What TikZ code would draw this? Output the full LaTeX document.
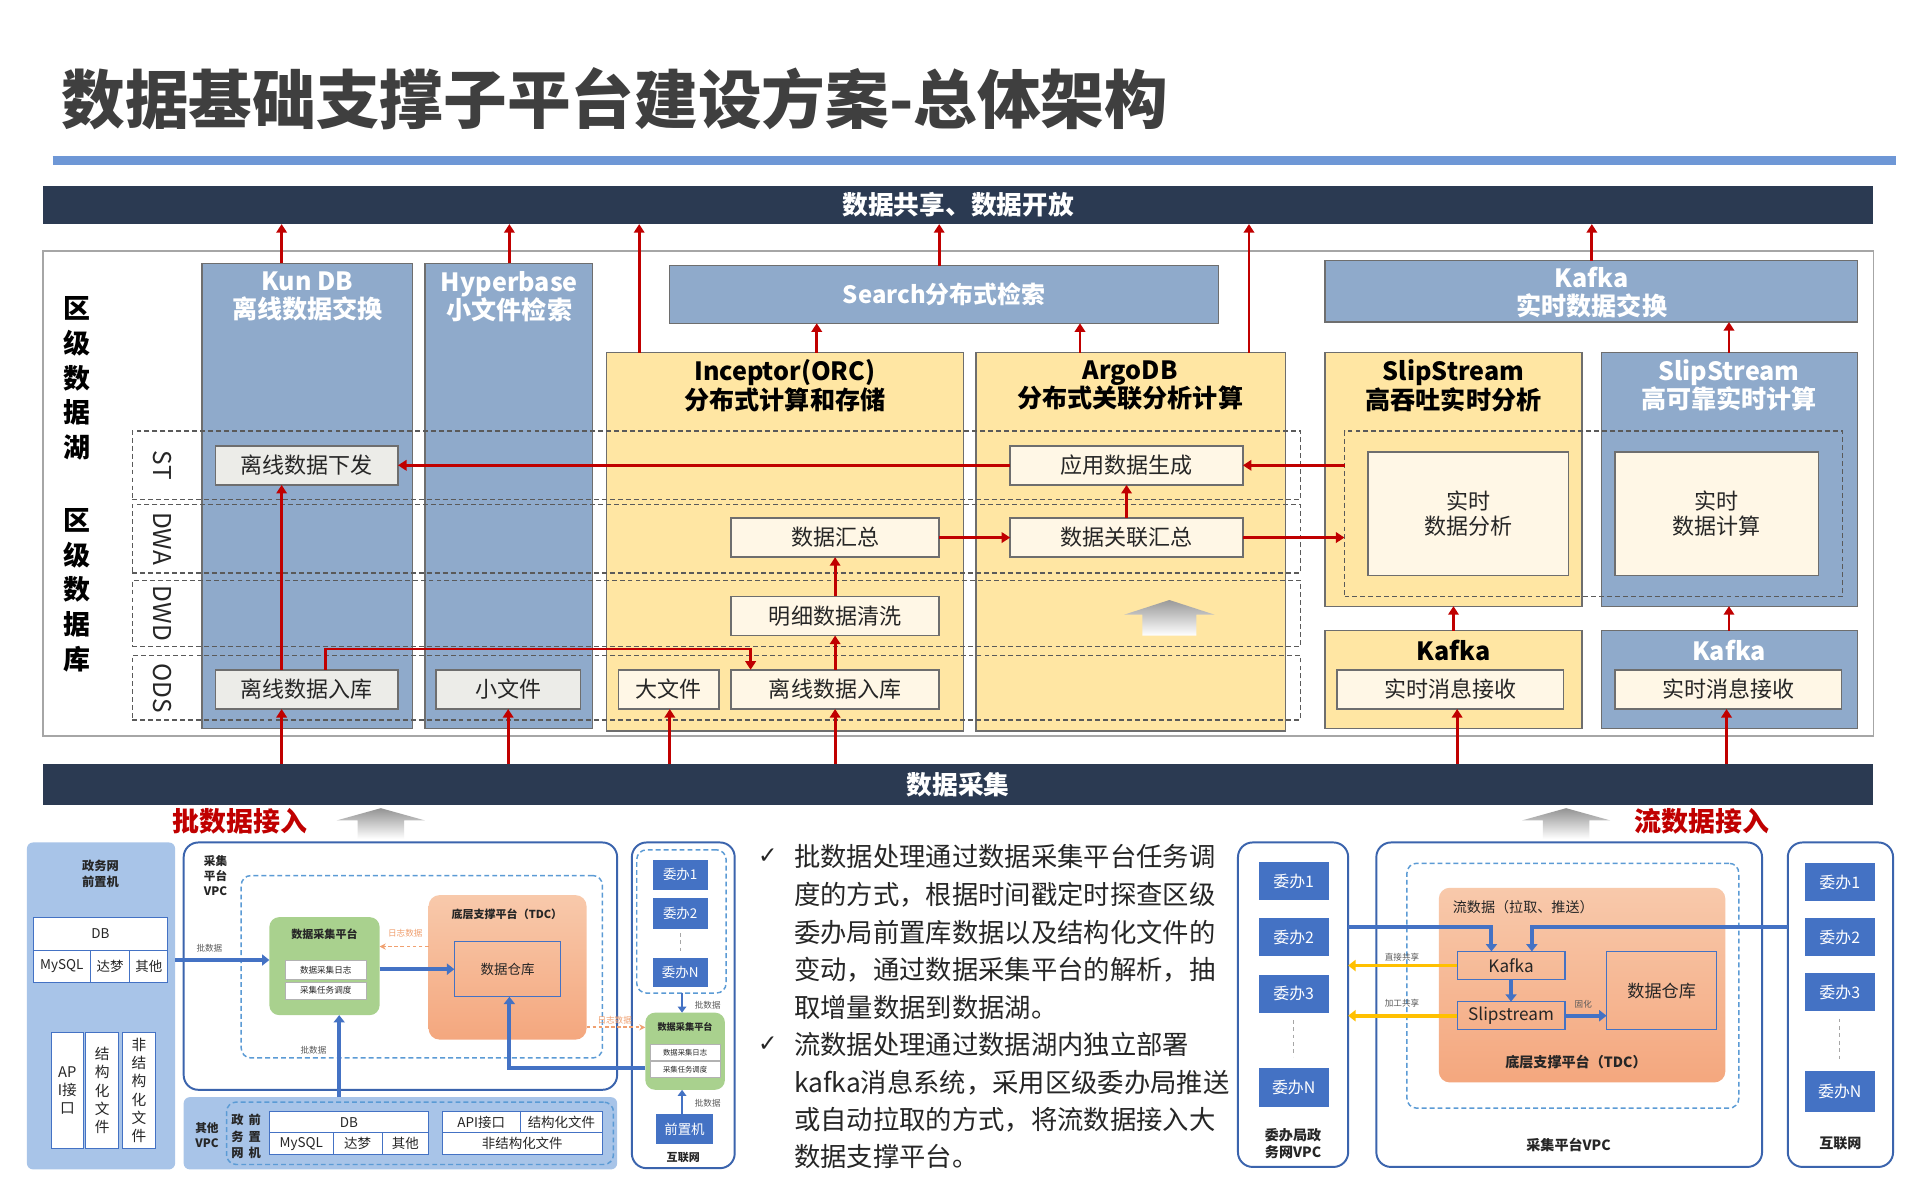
\documentclass[tikz,border=0pt]{standalone}
\usepackage{fontspec}
\setmainfont{Noto Sans CJK SC}
\newfontfamily\symfont{DejaVu Sans}
\usetikzlibrary{arrows.meta}
\definecolor{navy}{HTML}{2B3A52}
\definecolor{colblue}{HTML}{8FAACB}
\definecolor{colyel}{HTML}{FFE6A3}
\definecolor{colline}{HTML}{6E6E6E}
\definecolor{grayin}{HTML}{ECECE8}
\definecolor{cream}{HTML}{FFF7E6}
\definecolor{arred}{HTML}{C00000}
\definecolor{titlegray}{HTML}{3F3F3F}
\definecolor{titleblue}{HTML}{6E97D6}
\definecolor{dashgray}{HTML}{5A5A5A}
\definecolor{lightpanel}{HTML}{A8C4E8}
\definecolor{vpcblue}{HTML}{3B64AD}
\definecolor{dashblue}{HTML}{5B9BD5}
\definecolor{cellblue}{HTML}{4472C4}
\definecolor{greenf}{HTML}{A9D18E}
\definecolor{tdctop}{HTML}{F8C9AB}
\definecolor{tdcbot}{HTML}{F4A77E}
\definecolor{orangel}{HTML}{F0A070}
\definecolor{yellowa}{HTML}{FFC000}
\definecolor{txtdark}{HTML}{262626}
\newcommand\fsz[2]{\fontsize{#1}{#2}\selectfont}
\newcommand\mkbox[7]{\node[#2, minimum width={#5-#3}, minimum height={#6-#4}] (#1) at ({(#3+#5)/2},{(#4+#6)/2}) {#7};}
\tikzset{
  base/.style={rectangle, inner sep=0pt, outer sep=0pt},
  navybar/.style={base, fill=navy, text=white, font=\fsz{21}{24}\bfseries},
  framebox/.style={base, draw=gray!70, line width=1.2pt},
  bluecol/.style={base, fill=colblue, draw=colline, line width=1pt},
  yelcol/.style={base, fill=colyel, draw=colline, line width=1pt},
  wtitle/.style={text=white, font=\fsz{20.5}{23}\bfseries, align=center},
  ktitle/.style={text=black, font=\fsz{20.5}{23}\bfseries, align=center},
  layer/.style={base, draw=dashgray, line width=1pt, dash pattern=on 4pt off 2.5pt},
  layerlbl/.style={rotate=-90, font=\fsz{20}{22}, text=txtdark},
  lakelbl/.style={font=\fsz{22}{28.5}\bfseries, align=center, text=black},
  graybox/.style={base, fill=grayin, draw=colline, line width=1.3pt, font=\fsz{18}{20}, text=txtdark},
  creambox/.style={base, fill=cream, draw=colline, line width=1.3pt, font=\fsz{18}{20}, text=txtdark, align=center},
  redarr/.style={draw=arred, line width=2.4pt, -{Triangle[length=7pt,width=8.5pt]}},
  redlbl/.style={text=arred, font=\fsz{22}{26}\bfseries},
  lbpanel/.style={base, fill=lightpanel, rounded corners=5pt},
  vpc/.style={base, draw=vpcblue, line width=1.6pt, fill=white, rounded corners=12pt},
  innerdash/.style={base, draw=dashblue, line width=1.2pt, dash pattern=on 4pt off 2.5pt, rounded corners=8pt},
  cell/.style={base, fill=white, draw=cellblue, line width=0.8pt, font=\fsz{11}{13}, text=txtdark},
  vcell/.style={cell, font=\fsz{12}{15}, align=center},
  greenbox/.style={base, fill=greenf, rounded corners=8pt},
  subcell/.style={base, fill=white, draw=gray!60, line width=0.6pt, font=\fsz{7}{8}, text=txtdark},
  tdc/.style={base, top color=tdctop, bottom color=tdcbot, rounded corners=9pt},
  whbox/.style={base, draw=cellblue, line width=1pt, font=\fsz{11}{13}, text=txtdark},
  tdcin/.style={base, draw=cellblue, line width=1pt, font=\fsz{14}{16}, text=txtdark},
  wbox/.style={base, fill=cellblue, text=white, font=\fsz{11}{13}},
  wboxb/.style={base, fill=cellblue, text=white, font=\fsz{13}{15}},
  bluearr/.style={draw=cellblue, line width=3.2pt, -{Triangle[length=6pt,width=9pt]}},
  bluearrs/.style={draw=cellblue, line width=2.2pt, -{Triangle[length=5pt,width=7pt]}},
  orgdash/.style={draw=orangel, line width=1.5pt, dash pattern=on 3pt off 2pt, -{Stealth[length=5pt,width=5pt]}},
  yelarr/.style={draw=yellowa, line width=3.2pt, -{Triangle[length=6pt,width=9pt]}},
  tinylbl/.style={font=\fsz{7}{8}, text=gray!70!black},
  orglbl/.style={font=\fsz{7}{8}, text=orangel},
  smallb/.style={font=\fsz{9.5}{12}\bfseries, align=center, text=txtdark},
  dotline/.style={draw=gray!70, line width=1pt, dash pattern=on 3pt off 3pt},
  bodytext/.style={font=\fsz{21.5}{26}, text=txtdark, anchor=base west},
  chk/.style={font=\symfont\bfseries\fsz{19}{20}, text=txtdark},
}
\begin{document}
\begin{tikzpicture}[x=1pt,y=-1pt]
\useasboundingbox (0,0) rectangle (1568,980);
\fill[white] (0,0) rectangle (1568,980);

% title
\node[anchor=west, inner sep=0pt, font=\fsz{52}{60}\bfseries, text=titlegray] (title) at (50,81) {数据基础支撑子平台建设方案-总体架构};
\draw[line width=7pt, titleblue] (43,131) -- (1548,131);

% top bar and frame
\mkbox{topbar}{navybar}{35}{152}{1530}{183}{数据共享、数据开放}
\mkbox{frame}{framebox}{35}{205}{1530}{601}{}

% left labels
\node[lakelbl] (lake) at (63,309) {区\\级\\数\\据\\湖};
\node[lakelbl] (dbase) at (63,482) {区\\级\\数\\据\\库};

% columns
\mkbox{kun}{bluecol}{165}{215}{337}{595}{}
\mkbox{hyper}{bluecol}{347}{215}{484}{595}{}
\mkbox{incep}{yelcol}{495}{288}{787}{597}{}
\mkbox{argo}{yelcol}{797}{288}{1050}{597}{}
\mkbox{search}{bluecol}{547}{217}{995}{264}{}
\node[wtitle, font=\fsz{19.5}{22}\bfseries] (searcht) at (771,240) {Search分布式检索};
\mkbox{kafkax}{bluecol}{1082}{213}{1517}{263}{}
\node[wtitle] (kafkaxt) at (1300,239) {Kafka\\实时数据交换};
\mkbox{ssy}{yelcol}{1082}{288}{1292}{495}{}
\mkbox{ssb}{bluecol}{1308}{288}{1517}{495}{}
\mkbox{kfy}{yelcol}{1082}{515}{1292}{595}{}
\mkbox{kfb}{bluecol}{1308}{515}{1517}{595}{}

\node[wtitle] (kunt) at (251,242) {Kun DB\\离线数据交换};
\node[wtitle] (hypert) at (416,242) {Hyperbase\\小文件检索};
\node[ktitle] (incept) at (641,315) {Inceptor(ORC)\\分布式计算和存储};
\node[ktitle] (argot) at (923,315) {ArgoDB\\分布式关联分析计算};
\node[ktitle] (ssyt) at (1187,315) {SlipStream\\高吞吐实时分析};
\node[wtitle] (ssbt) at (1412,315) {SlipStream\\高可靠实时计算};
\node[ktitle] (kfyt) at (1187,531) {Kafka};
\node[wtitle] (kfbt) at (1412,531) {Kafka};

% layers
\mkbox{rowst}{layer}{108}{352}{1062}{408}{}
\mkbox{rowdwa}{layer}{108}{412}{1062}{468}{}
\mkbox{rowdwd}{layer}{108}{474}{1062}{528}{}
\mkbox{rowods}{layer}{108}{535}{1062}{588}{}
\mkbox{ssdash}{layer}{1098}{352}{1505}{487}{}
\node[layerlbl] (lst) at (133,380) {ST};
\node[layerlbl] (ldwa) at (133,440) {DWA};
\node[layerlbl] (ldwd) at (133,501) {DWD};
\node[layerlbl] (lods) at (133,562) {ODS};

% inner boxes
\mkbox{xiafa}{graybox}{176}{364}{325}{396}{离线数据下发}
\mkbox{rukuK}{graybox}{176}{547}{325}{579}{离线数据入库}
\mkbox{xiaowj}{graybox}{356}{547}{474}{579}{小文件}
\mkbox{dawj}{creambox}{505}{547}{587}{579}{大文件}
\mkbox{rukuI}{creambox}{597}{547}{767}{579}{离线数据入库}
\mkbox{mingxi}{creambox}{597}{487}{767}{519}{明细数据清洗}
\mkbox{huizong}{creambox}{597}{423}{767}{455}{数据汇总}
\mkbox{yingyong}{creambox}{825}{364}{1015}{396}{应用数据生成}
\mkbox{guanlian}{creambox}{825}{423}{1015}{455}{数据关联汇总}
\mkbox{fenxi}{creambox}{1117}{369}{1281}{470}{实时\\数据分析}
\mkbox{jisuan}{creambox}{1319}{369}{1485}{470}{实时\\数据计算}
\mkbox{msgy}{creambox}{1092}{547}{1277}{579}{实时消息接收}
\mkbox{msgb}{creambox}{1319}{547}{1504}{579}{实时消息接收}

% gray up arrow in ArgoDB
\shade[top color=gray!80, bottom color=white] (918,502) -- (955,490) -- (992,502) -- (977,502) -- (977,519) -- (933,519) -- (933,502) -- cycle;

% bottom bar
\mkbox{caiji}{navybar}{35}{624}{1530}{657}{数据采集}

% red arrows up to top bar
\draw[redarr] (230,0 |- kun.north) -- (230,0 |- topbar.south);
\draw[redarr] (416,0 |- hyper.north) -- (416,0 |- topbar.south);
\draw[redarr] (522,0 |- incep.north) -- (522,0 |- topbar.south);
\draw[redarr] (767,0 |- search.north) -- (767,0 |- topbar.south);
\draw[redarr] (1020,0 |- argo.north) -- (1020,0 |- topbar.south);
\draw[redarr] (1300,0 |- kafkax.north) -- (1300,0 |- topbar.south);
\draw[redarr] (667,0 |- incep.north) -- (667,0 |- search.south);
\draw[redarr] (882,0 |- argo.north) -- (882,0 |- search.south);
\draw[redarr] (1412,0 |- ssb.north) -- (1412,0 |- kafkax.south);
\draw[redarr] (1187,0 |- kfy.north) -- (1187,0 |- ssy.south);
\draw[redarr] (1412,0 |- kfb.north) -- (1412,0 |- ssb.south);
% internal flows
\draw[redarr] (yingyong.west) -- (xiafa.east);
\draw[redarr] (ssdash.west |- yingyong.east) -- (yingyong.east);
\draw[redarr] (guanlian.east) -- (ssdash.west |- guanlian.east);
\draw[redarr] (huizong.east) -- (guanlian.west);
\draw[redarr] (guanlian.north) -- (guanlian.north |- yingyong.south);
\draw[redarr] (682,0 |- mingxi.north) -- (682,0 |- huizong.south);
\draw[redarr] (682,0 |- rukuI.north) -- (682,0 |- mingxi.south);
\draw[redarr] (230,0 |- rukuK.north) -- (230,0 |- xiafa.south);
\draw[redarr] (266,0 |- rukuK.north) -- (266,530) -- (613,530) -- (613,0 |- rukuI.north);
% from collection bar
\draw[redarr] (230,0 |- caiji.north) -- (230,0 |- rukuK.south);
\draw[redarr] (415,0 |- caiji.north) -- (415,0 |- xiaowj.south);
\draw[redarr] (547,0 |- caiji.north) -- (547,0 |- dawj.south);
\draw[redarr] (682,0 |- caiji.north) -- (682,0 |- rukuI.south);
\draw[redarr] (1190,0 |- caiji.north) -- (1190,0 |- msgy.south);
\draw[redarr] (1410,0 |- caiji.north) -- (1410,0 |- msgb.south);

% access labels
\node[redlbl] (batchin) at (196,671) {批数据接入};
\node[redlbl] (streamin) at (1390,671) {流数据接入};
\shade[top color=gray!85, bottom color=white] (275,670) -- (311,660) -- (347,670) -- (330,670) -- (330,685) -- (292,685) -- (292,670) -- cycle;
\shade[top color=gray!85, bottom color=white] (1243,670) -- (1279,660) -- (1315,670) -- (1298,670) -- (1298,685) -- (1260,685) -- (1260,670) -- cycle;

% ===== bottom-left: batch diagram =====
\mkbox{zwpanel}{lbpanel}{22}{688}{143}{955}{}
\node[smallb, font=\fsz{10}{13}\bfseries] (zwlbl) at (82,714) {政务网\\前置机};
\mkbox{db1}{cell}{27}{749}{137}{776}{DB}
\mkbox{mysql1}{cell}{27}{776}{74}{802}{MySQL}
\mkbox{dm1}{cell}{74}{776}{106}{802}{达梦}
\mkbox{qt1}{cell}{106}{776}{137}{802}{其他}
\mkbox{api1}{vcell}{42}{843}{68}{938}{AP\\I接\\口}
\mkbox{jg1}{vcell}{70}{843}{97}{938}{结\\构\\化\\文\\件}
\mkbox{fjg1}{vcell}{100}{843}{127}{938}{非\\结\\构\\化\\文\\件}

\mkbox{vpc1}{vpc}{150}{688}{504}{890}{}
\node[smallb] (vpc1lbl) at (176,715) {采集\\平台\\VPC};
\mkbox{vpc1in}{innerdash}{197}{715}{492}{864}{}
\mkbox{grn1}{greenbox}{220}{749}{310}{829}{}
\node[smallb, font=\fsz{9}{11}\bfseries] (grn1t) at (265,763) {数据采集平台};
\mkbox{grn1a}{subcell}{233}{784}{299}{800}{数据采集日志}
\mkbox{grn1b}{subcell}{233}{802}{299}{816}{采集任务调度}
\mkbox{tdc1}{tdc}{350}{731}{479}{849}{}
\node[smallb, font=\fsz{9}{11}\bfseries] (tdc1t) at (414,747) {底层支撑平台（TDC）};
\mkbox{ck1}{whbox}{371}{769}{458}{814}{数据仓库}

\mkbox{qtpanel}{lbpanel}{150}{896}{504}{955}{}
\mkbox{qtin}{innerdash}{185}{900}{501}{951}{}
\node[smallb, font=\fsz{9.5}{12.5}\bfseries] (qtlbl) at (169,927) {其他\\VPC};
\node[smallb, font=\fsz{10}{13.5}\bfseries] (qtzw) at (194,928) {政\\务\\网};
\node[smallb, font=\fsz{10}{13.5}\bfseries] (qtqz) at (208,928) {前\\置\\机};
\mkbox{db2}{cell}{220}{908}{350}{925}{DB}
\mkbox{mysql2}{cell}{220}{925}{272}{943}{MySQL}
\mkbox{dm2}{cell}{272}{925}{312}{943}{达梦}
\mkbox{qt2}{cell}{312}{925}{350}{943}{其他}
\mkbox{api2}{cell}{361}{908}{425}{925}{API接口}
\mkbox{jg2}{cell}{425}{908}{492}{925}{结构化文件}
\mkbox{fjg2}{cell}{361}{925}{492}{943}{非结构化文件}

\mkbox{hlw1}{vpc}{516}{688}{600}{954}{}
\mkbox{hlw1in}{innerdash}{520}{694}{593}{811}{}
\mkbox{wb11}{wbox}{533}{702}{578}{727}{委办1}
\mkbox{wb12}{wbox}{533}{733}{578}{759}{委办2}
\mkbox{wb1N}{wbox}{533}{782}{578}{806}{委办N}
\draw[dotline] ([yshift=-3pt]wb12.south) -- ([yshift=3pt]wb1N.north);
\mkbox{grn2}{greenbox}{527}{827}{592}{890}{}
\node[smallb, font=\fsz{7.5}{9}\bfseries] (grn2t) at (559.5,839) {数据采集平台};
\mkbox{grn2a}{subcell}{531}{853}{588}{866}{\fsz{6}{7}数据采集日志}
\mkbox{grn2b}{subcell}{531}{867}{588}{880}{\fsz{6}{7}采集任务调度}
\mkbox{qzj}{wbox}{536}{910}{582}{934}{前置机}
\node[smallb, font=\fsz{9}{11}\bfseries] (hlw1lbl) at (558,945) {互联网};

\draw[bluearr] (zwpanel.east |- 0,784) -- (grn1.west |- 0,784);
\node[tinylbl] (pl1) at (171,774) {批数据};
\draw[orgdash] (tdc1.west |- 0,773) -- (grn1.east |- 0,773);
\node[orglbl] (rz1) at (331,762) {日志数据};
\draw[bluearr] (grn1.east |- ck1.west) -- (ck1.west);
\draw[bluearr] (277,0 |- qtpanel.north) -- (277,0 |- grn1.south);
\node[tinylbl] (pl2) at (256,858) {批数据};
\draw[bluearr] (grn2.west |- 0,872) -- (416,872) -- (416,0 |- ck1.south);
\draw[orgdash] (tdc1.east |- 0,839) -- (grn2.west |- 0,839);
\node[orglbl] (rz2) at (502,833) {日志数据};
\draw[bluearrs] (557,0 |- hlw1in.south) -- (557,0 |- grn2.north);
\node[tinylbl] (pl3) at (578,821) {批数据};
\draw[bluearrs] (557,0 |- qzj.north) -- (557,0 |- grn2.south);
\node[tinylbl] (pl4) at (578,901) {批数据};

% ===== middle text =====
\node[chk] (ck_a) at (627,699) {✓};
\node[chk] (ck_b) at (627,853) {✓};
\node[bodytext] (t1) at (645,708) {批数据处理通过数据采集平台任务调};
\node[bodytext] (t2) at (645,739) {度的方式，根据时间戳定时探查区级};
\node[bodytext] (t3) at (645,769.5) {委办局前置库数据以及结构化文件的};
\node[bodytext] (t4) at (645,800) {变动，通过数据采集平台的解析，抽};
\node[bodytext] (t5) at (645,831) {取增量数据到数据湖。};
\node[bodytext] (t6) at (645,861) {流数据处理通过数据湖内独立部署};
\node[bodytext] (t7) at (645,892) {kafka消息系统，采用区级委办局推送};
\node[bodytext] (t8) at (645,922.5) {或自动拉取的方式，将流数据接入大};
\node[bodytext] (t9) at (645,953) {数据支撑平台。};

% ===== bottom-right: stream diagram =====
\mkbox{wbvpc}{vpc}{1011}{688}{1101}{953}{}
\mkbox{wb21}{wboxb}{1028}{704}{1085}{735}{委办1}
\mkbox{wb22}{wboxb}{1028}{750}{1085}{781}{委办2}
\mkbox{wb23}{wboxb}{1028}{796}{1085}{827}{委办3}
\mkbox{wb2N}{wboxb}{1028}{872}{1085}{904}{委办N}
\draw[dotline] ([yshift=-6pt]wb23.south) -- ([yshift=9pt]wb2N.north);
\node[smallb, font=\fsz{11.5}{14.5}\bfseries] (wbvpcl) at (1056,934) {委办局政\\务网VPC};

\mkbox{cjvpc}{vpc}{1124}{688}{1439}{953}{}
\mkbox{cjin}{innerdash}{1149}{705}{1420}{905}{}
\mkbox{tdc2}{tdc}{1175}{725}{1409}{884}{}
\node[anchor=west, font=\fsz{11.5}{14}, text=txtdark] (lsj) at (1183,741) {流数据（拉取、推送）};
\mkbox{kfk2}{tdcin}{1190}{777}{1278}{800}{Kafka}
\mkbox{slp2}{tdcin}{1190}{818}{1278}{841}{Slipstream}
\mkbox{ck2}{tdcin}{1312}{777}{1402}{841}{数据仓库}
\node[smallb, font=\fsz{11.5}{14}\bfseries] (tdc2t) at (1287,867) {底层支撑平台（TDC）};
\node[smallb, font=\fsz{11.5}{14}\bfseries] (cjvpcl) at (1281,935) {采集平台VPC};

\mkbox{hlw2}{vpc}{1460}{688}{1546}{953}{}
\mkbox{wb31}{wboxb}{1474}{705}{1531}{736}{委办1}
\mkbox{wb32}{wboxb}{1474}{750}{1531}{781}{委办2}
\mkbox{wb33}{wboxb}{1474}{795}{1531}{826}{委办3}
\mkbox{wb3N}{wboxb}{1474}{875}{1531}{908}{委办N}
\draw[dotline] ([yshift=-6pt]wb33.south) -- ([yshift=9pt]wb3N.north);
\node[smallb, font=\fsz{11.5}{14}\bfseries] (hlw2l) at (1503,934) {互联网};

\draw[bluearr] (wbvpc.east |- 0,757) -- (1218,757) -- (1218,0 |- kfk2.north);
\draw[bluearr] (hlw2.west |- 0,757) -- (1251,757) -- (1251,0 |- kfk2.north);
\draw[bluearr] (1234,0 |- kfk2.south) -- (1234,0 |- slp2.north);
\draw[bluearr] (slp2.east) -- (ck2.west |- slp2.east);
\node[tinylbl] (gh) at (1293,820) {固化};
\draw[yelarr] (kfk2.west) -- (wbvpc.east |- kfk2.west);
\node[tinylbl] (zjgx) at (1145,782) {直接共享};
\draw[yelarr] (slp2.west) -- (wbvpc.east |- slp2.west);
\node[tinylbl] (jggx) at (1145,819) {加工共享};
\end{tikzpicture}
\end{document}
